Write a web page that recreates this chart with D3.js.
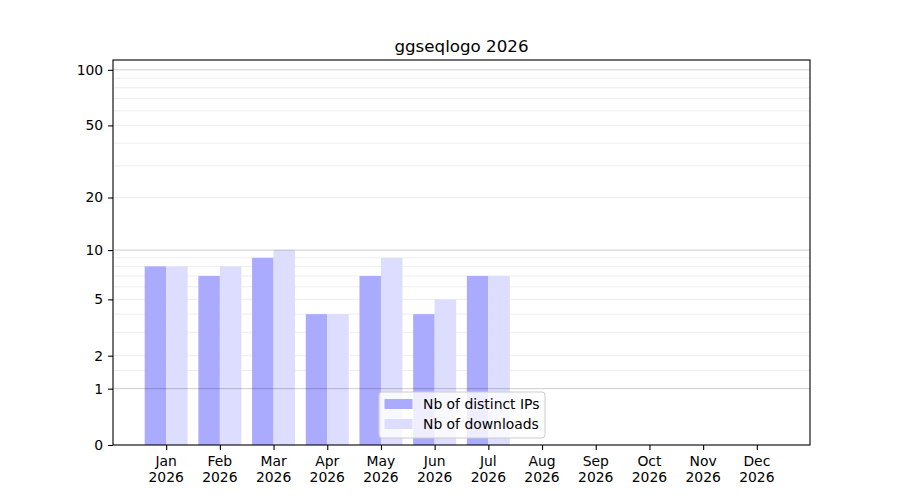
<!DOCTYPE html>
<html>
<head>
<meta charset="utf-8">
<script src="https://cdn.jsdelivr.net/npm/d3@7"></script>
<style>
  body { margin: 0; background: #fff; }
  text { font-family: "DejaVu Sans", sans-serif; }
</style>
</head>
<body>
<div id="chart"></div>
<script>
// chart data
const months = ["Jan", "Feb", "Mar", "Apr", "May", "Jun", "Jul", "Aug", "Sep", "Oct", "Nov", "Dec"];
const year = "2026";
const distinctIPs = [8, 7, 9, 4, 7, 4, 7, 0, 0, 0, 0, 0];
const downloads = [8, 8, 10, 4, 9, 5, 7, 0, 0, 0, 0, 0];
const yTicks = [0, 1, 2, 5, 10, 20, 50, 100];
const majorGrid = [1, 10, 100];
const minorGrid = [1.5, 2, 3, 4, 5, 6, 7, 8, 9, 20, 30, 40, 50, 60, 70, 80, 90];

const width = 900;
const height = 500;
const margin = {left: 113, right: 90, top: 60, bottom: 55};

const svg = d3.select("#chart")
  .append("svg")
  .attr("width", width)
  .attr("height", height);

// x is the month index, y is a log(1+x) style scale
const xScale = d3.scaleLinear()
  .domain([-0.99, 11.99])
  .range([margin.left, width - margin.right]);

const yScale = d3.scaleSymlog()
  .constant(1)
  .domain([0, 113])
  .range([height - margin.bottom, margin.top]);

const barW = xScale(0.4) - xScale(0);

// grid lines
svg.append("g")
  .selectAll("line")
  .data(minorGrid)
  .enter()
  .append("line")
    .attr("x1", margin.left)
    .attr("x2", width - margin.right)
    .attr("y1", d => yScale(d))
    .attr("y2", d => yScale(d))
    .attr("stroke", "#000")
    .attr("stroke-opacity", 0.07)
    .attr("stroke-width", 1);

// bars
svg.append("g")
  .selectAll("rect")
  .data(distinctIPs)
  .enter()
  .append("rect")
    .attr("x", (d, i) => xScale(i) - barW)
    .attr("y", d => yScale(d))
    .attr("width", barW)
    .attr("height", d => yScale(0) - yScale(d))
    .attr("fill", "#aaaaff");

svg.append("g")
  .selectAll("rect")
  .data(downloads)
  .enter()
  .append("rect")
    .attr("x", (d, i) => xScale(i))
    .attr("y", d => yScale(d))
    .attr("width", barW)
    .attr("height", d => yScale(0) - yScale(d))
    .attr("fill", "#ddddff");

// major grid on top of the bars
svg.append("g")
  .selectAll("line")
  .data(majorGrid)
  .enter()
  .append("line")
    .attr("x1", margin.left)
    .attr("x2", width - margin.right)
    .attr("y1", d => yScale(d))
    .attr("y2", d => yScale(d))
    .attr("stroke", "#000")
    .attr("stroke-opacity", 0.2)
    .attr("stroke-width", 1);

// axes
const yAxis = svg.append("g")
  .attr("transform", `translate(${margin.left},0)`)
  .call(d3.axisLeft(yScale).tickValues(yTicks).tickFormat(d3.format("d")).tickSize(4.9).tickPadding(4.9));
yAxis.select(".domain").remove();
yAxis.selectAll("text").attr("font-size", "13.9px").attr("fill", "#000").attr("font-family", "DejaVu Sans");
yAxis.selectAll("line").attr("stroke-width", 1.1);

const xAxis = svg.append("g")
  .attr("transform", `translate(0,${height - margin.bottom})`)
  .call(d3.axisBottom(xScale).tickValues(d3.range(months.length)).tickFormat("").tickSize(4.9));
xAxis.select(".domain").remove();
xAxis.selectAll("line").attr("stroke-width", 1.1);

const xLabels = svg.append("g")
  .selectAll("text")
  .data(months)
  .enter()
  .append("text")
    .attr("x", (d, i) => xScale(i))
    .attr("y", height - margin.bottom + 21)
    .attr("text-anchor", "middle")
    .attr("font-size", "13.9px");
xLabels.append("tspan").attr("x", (d, i) => xScale(i)).text(d => d);
xLabels.append("tspan").attr("x", (d, i) => xScale(i)).attr("dy", 16).text(year);

// frame
svg.append("rect")
  .attr("x", margin.left)
  .attr("y", margin.top)
  .attr("width", width - margin.left - margin.right)
  .attr("height", height - margin.top - margin.bottom)
  .attr("fill", "none")
  .attr("stroke", "#000")
  .attr("stroke-width", 1.1);

// title
svg.append("text")
  .attr("x", (margin.left + width - margin.right) / 2)
  .attr("y", margin.top - 8)
  .attr("text-anchor", "middle")
  .attr("font-size", "16.7px")
  .text("ggseqlogo " + year);

// legend
const legend = svg.append("g").attr("transform", "translate(379,392)");
legend.append("rect")
  .attr("width", 166)
  .attr("height", 46)
  .attr("rx", 3)
  .attr("fill", "#fff")
  .attr("fill-opacity", 0.8)
  .attr("stroke", "#cccccc");
const legendItems = [
  {label: "Nb of distinct IPs", color: "#aaaaff"},
  {label: "Nb of downloads", color: "#ddddff"}
];
legendItems.forEach((item, i) => {
  legend.append("rect")
    .attr("x", 5.5)
    .attr("y", 7 + i * 20)
    .attr("width", 28)
    .attr("height", 10)
    .attr("fill", item.color);
  legend.append("text")
    .attr("x", 44)
    .attr("y", 17 + i * 20)
    .attr("font-size", "13.9px")
    .text(item.label);
});
</script>
</body>
</html>
